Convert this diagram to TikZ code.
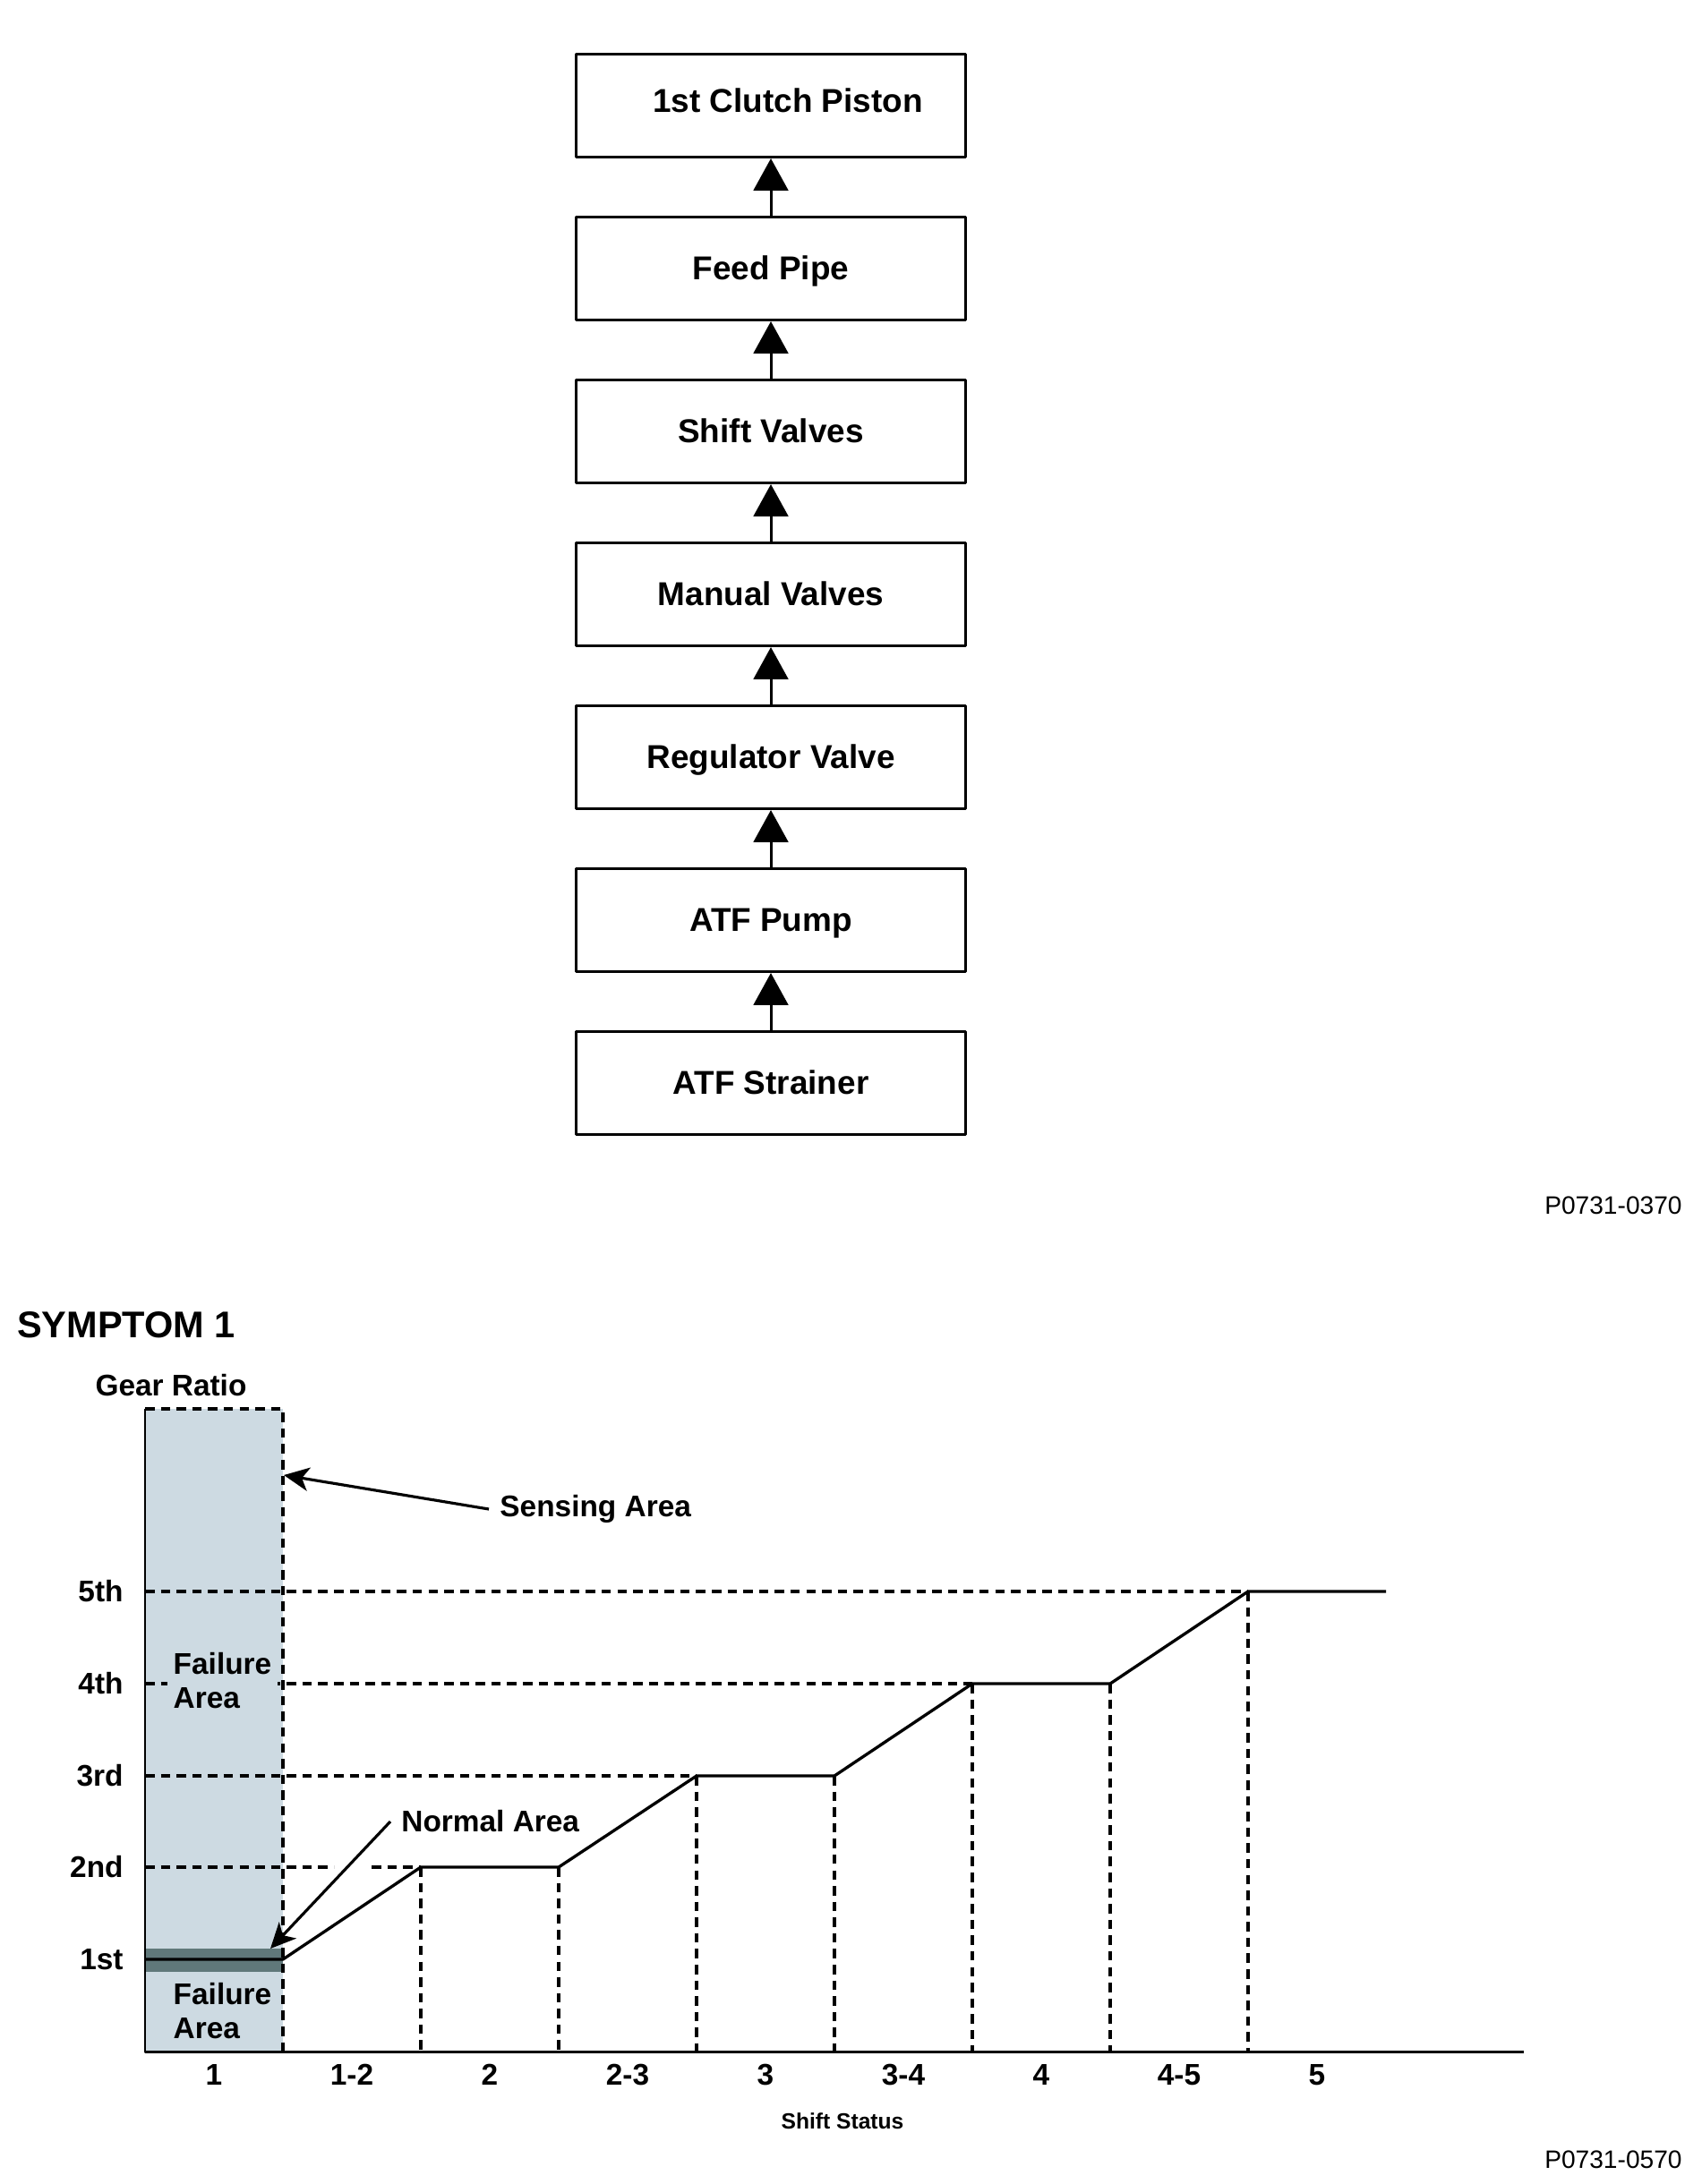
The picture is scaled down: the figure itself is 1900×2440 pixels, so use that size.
\documentclass[tikz,border=0pt]{standalone}
\usepackage{fontspec}
\setmainfont{Liberation Sans}
\usetikzlibrary{arrows.meta}
\definecolor{failshade}{RGB}{205,218,226}
\definecolor{normband}{RGB}{96,120,122}

\begin{document}
\begin{tikzpicture}[line join=round,x=0.01cm,y=-0.01cm,
	flowbox/.style={draw,line width=0.85pt,minimum width=4.35cm,minimum height=1.15cm,text height=0.72em,text depth=0pt,font=\fontsize{10.5}{12}\selectfont\bfseries},
	flowarrow/.style={-{Triangle[length=10.2pt,width=11pt]},line width=0.85pt},
	gridline/.style={line width=1.05pt,dash pattern=on 3pt off 2pt},
	chartlabel/.style={font=\fontsize{9.5}{10.8}\selectfont\bfseries},
	pointer/.style={-{Stealth[length=8pt,width=7.5pt,inset=2.2pt]},line width=0.9pt}]
	\useasboundingbox (0,0) rectangle (1900,2440);
	% oil flow chain
	\node[flowbox] (piston) at (861,118) {\hspace*{0.38cm}\raisebox{1.5pt}{1st Clutch Piston}};
	\node[flowbox] (feed) at (861,300) {Feed Pipe};
	\node[flowbox] (shift) at (861,482) {Shift Valves};
	\node[flowbox] (manual) at (861,664) {Manual Valves};
	\node[flowbox] (reg) at (861,846) {Regulator Valve};
	\node[flowbox] (pump) at (861,1028) {ATF Pump};
	\node[flowbox] (strainer) at (861,1210) {ATF Strainer};
	\draw[flowarrow] (strainer.north) -- (pump.south);
	\draw[flowarrow] (pump.north) -- (reg.south);
	\draw[flowarrow] (reg.north) -- (manual.south);
	\draw[flowarrow] (manual.north) -- (shift.south);
	\draw[flowarrow] (shift.north) -- (feed.south);
	\draw[flowarrow] (feed.north) -- (piston.south);
	\node[anchor=east,font=\fontsize{8}{9.6}\selectfont] (code1) at (1891,1347) {P0731-0370};
	% symptom chart
	\node[font=\fontsize{11.8}{14}\selectfont\bfseries] (title) at (141,1480) {SYMPTOM 1};
	\node[chartlabel] (gear) at (191,1548) {Gear Ratio};
	\fill[failshade] (162,1574) rectangle (316,2292);
	\fill[normband] (162,2177) rectangle (316,2203);
	\draw[gridline] (162,1778) -- (1394,1778);
	\draw[gridline] (162,1881) -- (1086,1881);
	\draw[gridline] (162,1984) -- (778,1984);
	\draw[gridline] (162,2086) -- (373,2086);
	\draw[gridline] (415,2086) -- (470,2086);
	\node[chartlabel,fill=failshade,align=left,anchor=west,inner sep=2pt] (failhi) at (186,1878) {Failure\\Area};
	\node[chartlabel,fill=failshade,align=left,anchor=west,inner sep=2pt] (faillo) at (186,2247) {Failure\\Area};
	\draw[gridline] (162,1574) -- (316,1574) -- (316,2292);
	\draw[gridline] (470,2086) -- (470,2292);
	\draw[gridline] (624,2086) -- (624,2292);
	\draw[gridline] (778,1984) -- (778,2292);
	\draw[gridline] (932,1984) -- (932,2292);
	\draw[gridline] (1086,1881) -- (1086,2292);
	\draw[gridline,line width=1.25pt] (1240,1881) -- (1240,2292);
	\draw[gridline] (1394,1778) -- (1394,2292);
	\draw[line width=0.85pt] (162,1574) -- (162,2292) -- (1702,2292);
	\draw[line width=0.95pt] (162,2189) -- (316,2189) -- (470,2086) -- (624,2086) -- (778,1984) -- (932,1984)
		-- (1086,1881) -- (1240,1881) -- (1394,1778) -- (1548,1778);
	\node[chartlabel,anchor=east] (g5) at (150,1778) {5th};
	\node[chartlabel,anchor=east] (g4) at (150,1881) {4th};
	\node[chartlabel,anchor=east] (g3) at (150,1984) {3rd};
	\node[chartlabel,anchor=east] (g2) at (150,2086) {2nd};
	\node[chartlabel,anchor=east] (g1) at (150,2189) {1st};
	\foreach \lab [count=\i] in {1,1-2,2,2-3,3,3-4,4,4-5,5}
		\node[chartlabel] (s\i) at ({85+154*\i},2318) {\lab};
	\node[font=\fontsize{7}{8.4}\selectfont\bfseries] (status) at (941,2370) {Shift Status};
	\node[chartlabel,anchor=west] (sense) at (546,1686) {Sensing Area};
	\coordinate (sensetip) at (317,1648);
	\draw[pointer] (sense.west) -- (sensetip);
	\node[chartlabel,anchor=west] (normal) at (436,2035) {Normal Area};
	\coordinate (normaltip) at (302,2177);
	\draw[pointer] (normal.west) -- (normaltip);
	\node[anchor=east,font=\fontsize{8}{9.6}\selectfont] (code2) at (1891,2413) {P0731-0570};
\end{tikzpicture}
\end{document}
